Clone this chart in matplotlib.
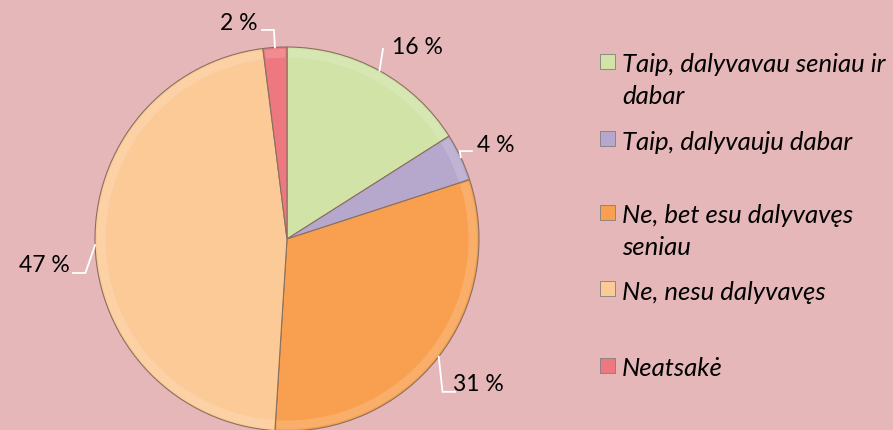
import matplotlib
matplotlib.use("Agg")
import matplotlib.pyplot as plt
from matplotlib.patches import Wedge, Rectangle
import numpy as np

categories = [
    "Taip, dalyvavau seniau ir\ndabar",
    "Taip, dalyvauju dabar",
    "Ne, bet esu dalyvavęs\nseniau",
    "Ne, nesu dalyvavęs",
    "Neatsakė",
]
values = [16, 4, 31, 47, 2]
labels = ["16 %", "4 %", "31 %", "47 %", "2 %"]
colors = ["#D1E3A7", "#B6A8CD", "#F8A04F", "#FCCA97", "#EE7880"]
bg = "#E5B7B8"

W, H = 893, 431
fig = plt.figure(figsize=(W / 100, H / 100), dpi=100, facecolor=bg)

# pie axes: centre (287, 240) px, radius 192 px
cx, cy, r = 287, 240, 192
ax = fig.add_axes([(cx - r) / W, (H - cy - r) / H, 2 * r / W, 2 * r / H])
ax.set_facecolor(bg)

wedges, _ = ax.pie(values, colors=colors, startangle=90, counterclock=False,
                   radius=1, wedgeprops=dict(edgecolor="#8a7060", linewidth=0.8))
ax.set_xlim(-1, 1)
ax.set_ylim(-1, 1)
ax.set_aspect("equal")
ax.axis("off")
for w in wedges:
    w.set_clip_on(False)

# soft bevel: light rim on each slice
for w in wedges:
    t1, t2 = w.theta1, w.theta2
    ax.add_patch(Wedge((0, 0), 0.99, t1 + 0.5, t2 - 0.5, width=0.045,
                       facecolor="white", alpha=0.15, edgecolor="none", clip_on=False))

# label placement (text centre) and leader elbow, in axes data units
label_pos = [(0.68, 1.005), (1.085, 0.49), (0.995, -0.755), (-1.265, -0.135), (-0.25, 1.125)]
elbows = [[(0.5, 0.99)],
          [(0.9, 0.458), (0.963, 0.458)],
          [(0.81, -0.796), (0.875, -0.796)],
          [(-1.05, -0.177), (-1.115, -0.177)],
          [(-0.068, 1.089), (-0.13, 1.089)]]

for w, lab, pos, elb in zip(wedges, labels, label_pos, elbows):
    mid = np.deg2rad((w.theta1 + w.theta2) / 2)
    p0 = (np.cos(mid), np.sin(mid))
    pts = [p0] + elb
    xs, ys = zip(*pts)
    ax.plot(xs, ys, color="white", lw=1.3, clip_on=False, solid_joinstyle="miter")
    ax.text(pos[0], pos[1], lab, ha="center", va="center", fontsize=16.5,
            family="Lato", color="black", clip_on=False)

# legend: one marker per entry, wrapped entries continue on a second line
leg_rows = [63, 140, 214, 290, 367]
line_step = 32
for col, cat, yrow in zip(colors, categories, leg_rows):
    fig.patches.append(Rectangle((600 / W, (H - yrow - 7) / H), 15 / W, 15 / H,
                                 transform=fig.transFigure, facecolor=col,
                                 edgecolor="#7f7f7f", linewidth=0.6))
    for i, line in enumerate(cat.split("\n")):
        fig.text(622 / W, (H - yrow - i * line_step) / H, line, ha="left",
                 va="center_baseline", fontsize=18.5, family="Lato", style="italic")

fig.savefig("out.png", dpi=100, facecolor=bg)
